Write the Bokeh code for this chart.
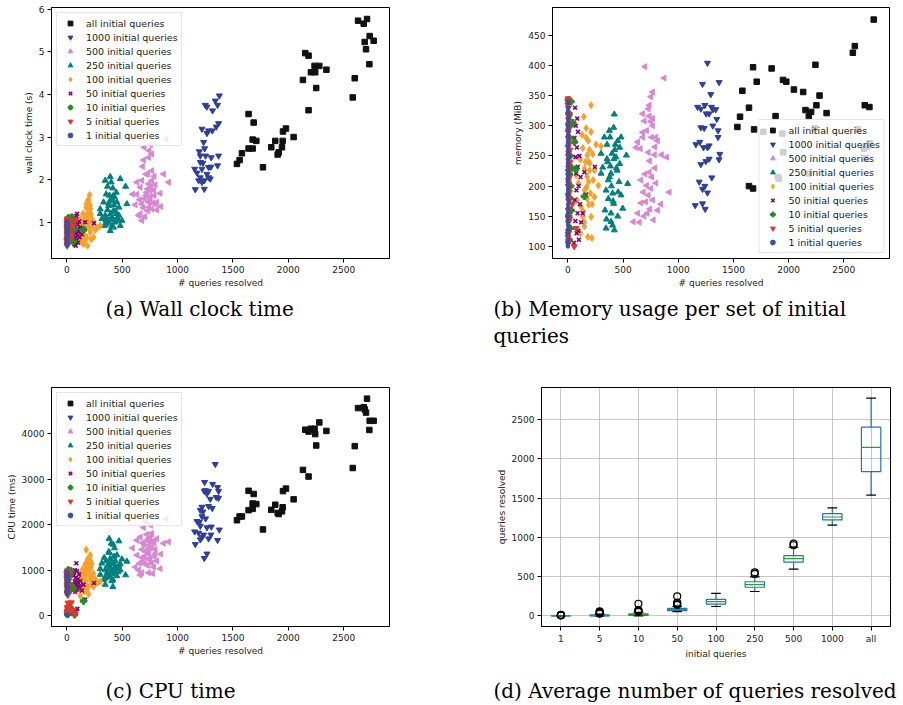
import numpy as np
from bokeh.plotting import figure
from bokeh.layouts import column, row
from bokeh.models import Range1d, FixedTicker
from bokeh.core.properties import value
from bokeh.embed import file_html
from bokeh.resources import INLINE

# ---------------- data: "all initial queries" ----------------
ALL_X = [1536,1560,1581,1641,1641,1678,1678,1687,1711,1771,1846,1882,1904,1913,1943,1949,1952,1979,2048,2132,
         2153,2183,2183,2204,2237,2243,2252,2280,2344,2582,2600,2630,2681,2690,2702,2711,2732,2735,2771]
ALL_WALL = [2.37,2.46,2.62,3.54,2.73,2.73,2.94,3.34,2.91,2.29,2.76,2.91,2.59,2.64,2.76,2.91,3.13,3.20,3.00,4.34,
            4.97,4.91,3.63,4.52,4.67,4.52,4.15,4.67,4.58,3.93,4.38,5.73,5.66,5.23,5.06,5.77,4.71,5.37,5.26]
ALL_MEM = [298,315,358,200,330,196,397,294,373,290,395,316,215,212,287,376,256,373,360,356,
           326,316,221,323,296,401,334,350,321,421,432,294,262,334,246,265,331,271,476]
ALL_CPU = [2094,2177,2177,2741,2316,2344,2462,2671,2449,1892,2323,2435,2254,2230,2289,2379,2734,2789,2553,3200,
           4083,4042,3054,4104,4104,3986,3736,4243,4056,3242,3722,4557,4577,4529,4459,4765,4077,4278,4278]

# ---------------- 1000 initial queries ----------------
Q1000_X = [1154,1160,1175,1190,1196,1205,1205,1205,1220,1220,1220,1229,1235,1241,1241,1244,1250,1253,1265,1265,
           1265,1280,1280,1280,1295,1301,1304,1313,1316,1340,1349,1361,1361,1370,1370,1377]
Q1000_WALL = [2.25,1.77,2.16,1.98,2.66,2.56,2.41,2.05,3.19,2.25,1.94,2.39,2.88,1.98,1.78,2.73,3.75,2.56,3.71,3.09,
              2.13,3.15,2.29,2.05,2.02,2.30,2.52,3.15,3.62,3.85,3.24,3.75,2.33,3.32,2.56,3.97]
Q1000_MEM = [168,269,331,207,273,328,297,236,195,171,369,264,296,200,334,162,241,320,404,264,
             189,267,245,320,352,331,214,300,327,327,311,281,292,372,244,253]
Q1000_CPU = [1844,1565,2073,1816,2050,2316,1969,1669,2177,1718,2386,2282,1774,1259,2734,2929,2750,2129,2678,1357,
             1934,2400,1690,2734,2560,1774,1950,2358,2887,3325,2600,2817,1656,2734,2581,1885]

# ---------------- 500 initial queries ----------------
Q500_X = [593,618,633,633,648,657,663,663,678,678,678,684,690,693,699,700,705,714,714,720,729,729,729,738,738,
          738,740,744,750,753,753,759,760,768,768,768,768,775,785,789,789,798,798,813,813,843,849,873,895,919]
Q500_WALL = [1.66,1.41,1.94,1.66,1.16,1.53,1.82,1.20,1.98,1.04,1.43,2.31,1.34,2.46,2.76,1.55,1.13,1.63,2.13,1.70,
             2.13,1.27,1.78,2.52,1.90,1.47,1.35,2.68,1.60,1.74,1.53,2.82,1.85,2.60,2.21,1.31,1.98,1.45,1.75,2.08,
             1.63,1.88,1.43,1.29,1.47,1.68,1.37,2.13,2.95,1.94]
Q500_MEM = [141,264,155,273,140,262,210,172,289,320,281,190,150,308,398,220,174,201,292,155,
            328,256,185,334,223,316,242,162,307,196,348,281,215,356,312,300,177,144,252,265,
            230,281,205,275,160,170,252,379,248,190]
Q500_CPU = [1482,1064,1329,1655,1000,1150,1725,890,1273,939,1450,1600,1200,1934,1551,1300,1134,2073,1400,1781,
            1447,1100,1650,1690,1238,939,1350,1550,1482,1250,1700,1983,1800,1795,1621,1150,1500,925,1064,1300,
            1600,1357,1450,1690,1200,1029,1350,1586,2121,1621]

# ---------------- 250 initial queries ----------------
Q250_X = [301,301,316,331,337,346,346,355,355,367,367,376,382,385,391,391,391,400,406,415,415,421,421,430,436,
          446,452,452,464,470,470,482,482,497,530,542,360,395,410,425,440,350,378,405,455,418]
Q250_WALL = [1.31,1.20,1.08,1.47,0.92,1.98,1.16,1.66,1.04,1.84,1.29,1.39,0.98,1.63,2.07,1.51,0.80,1.94,1.13,1.80,
             1.52,1.27,0.88,1.59,1.00,1.70,1.47,1.20,1.04,1.35,1.16,2.02,0.92,1.04,1.84,1.43,
             1.10,1.20,1.05,1.40,1.25,0.95,1.45,0.90,1.10,1.62]
Q250_MEM = [254,221,231,281,160,193,130,269,245,210,179,292,281,233,141,221,155,254,188,297,
            171,319,127,269,248,226,150,275,207,264,237,185,281,163,251,204,
            240,200,175,260,230,145,215,135,190,245]
Q250_CPU = [1029,900,1150,786,1273,682,1000,855,1200,1099,950,960,1690,1377,1064,850,1250,1586,1000,786,
            633,1134,920,1482,1203,1050,1329,869,960,1635,1100,1134,1000,1238,890,1189,
            900,1150,980,1300,1080,820,1400,760,1000,1560]

# ---------------- 100 initial queries ----------------
Q100_X = [75,84,96,114,114,120,136,136,145,151,151,151,166,166,175,175,175,181,187,187,190,196,196,205,211,
          211,217,226,241,241,256,277,301,130,160,200,220,170,185,150,230,140,210]
Q100_WALL = [0.88,1.04,0.69,0.80,0.57,1.08,0.73,0.53,1.20,0.96,0.80,0.49,1.12,0.57,1.43,1.34,1.04,0.65,1.20,0.45,
             1.52,0.88,1.52,1.64,1.31,0.77,1.20,1.08,1.00,0.65,0.82,0.88,0.92,
             0.95,0.70,1.00,0.60,0.85,1.10,0.62,0.90,1.00,1.40]
Q100_MEM = [218,177,205,122,244,166,263,149,315,229,193,133,296,280,251,216,179,116,240,207,
            169,260,226,188,334,149,114,253,182,226,269,201,266,
            285,240,238,170,198,275,140,210,158,290]
Q100_CPU = [700,647,786,600,911,438,661,850,1029,542,772,950,1134,700,890,1447,1000,560,1238,633,
            1100,995,473,1250,1329,786,1050,1134,925,633,800,716,751,
            820,540,920,680,760,1180,600,860,980,1200]

# ---------------- 50 initial queries ----------------
Q50_X = [55,60,62,65,68,70,72,75,78,80,82,85,88,90,92,95,98,100,105,110,115,120,135,150,165,245]
Q50_WALL = [0.55,0.95,0.70,1.10,0.48,0.80,1.05,0.62,0.90,0.45,0.75,1.15,0.58,0.85,1.20,0.68,0.95,0.52,0.78,1.02,
            0.65,0.88,0.72,0.85,1.00,0.98]
Q50_MEM = [106,280,177,330,142,248,300,221,193,122,264,312,155,232,290,126,200,111,250,170,
           215,140,155,223,186,232]
Q50_CPU = [120,950,620,880,40,750,1000,520,830,80,680,1150,560,700,980,150,800,600,720,900,
           640,760,550,680,355,716]

# ---------------- 10 initial queries ----------------
Q10_X = [5,8,10,12,14,15,17,18,20,22,25,28,30,35,45,60,70,150]
Q10_WALL = [0.60,0.95,0.75,1.10,0.52,0.85,0.68,1.05,0.90,0.58,0.80,1.00,0.70,0.92,1.12,0.55,0.85,0.82]
Q10_MEM = [343,150,320,220,110,280,180,300,250,130,200,340,160,230,305,273,228,183]
Q10_CPU = [950,30,800,1000,520,120,880,60,700,560,900,180,650,980,90,600,20,320]

# ---------------- 5 initial queries ----------------
Q5_X = [1,2,2,3,3,4,4,5,5,6,7,8,9,10,12,15,20,40,58,75,
        0,1,1,2,3,4,5,6,7,8,9,10,11,13,14,16,18,2,3,5]
Q5_WALL = [0.90,0.55,1.05,0.70,0.45,0.95,0.60,0.80,1.08,0.50,0.75,1.00,0.62,0.88,0.52,0.78,1.02,0.68,0.92,1.05,
           0.85,0.48,0.98,0.62,0.88,0.72,0.58,0.95,1.02,0.66,0.80,0.54,0.92,0.70,0.86,0.60,0.96,0.76,1.00,0.64]
Q5_MEM = [345,120,300,200,105,250,160,330,280,140,230,320,180,110,270,215,240,170,100,130,
          335,290,265,225,185,150,125,310,205,255,175,295,235,315,190,145,260,115,340,210]
Q5_CPU = [850,40,700,600,100,900,180,500,950,20,780,150,450,280,60,650,200,285,120,30,
          820,60,900,480,760,640,90,870,950,560,700,130,880,540,800,70,920,660,980,520]

# ---------------- 1 initial queries ----------------
Q1_X = [0,0,1,1,1,1,1,1,2,2,2,2,3,3,4,5,6,8,10,12,0,1,2,3,1,2,0,4,1,3,
        0,1,2,0,1,3,2,0,1,4,2,1,0,3,5,1,2,0,6,1]
Q1_WALL = [0.50,0.85,0.55,0.60,0.75,0.80,0.90,1.00,0.48,0.65,0.72,0.95,0.58,0.82,0.52,0.88,0.62,0.78,0.70,0.92,
           0.45,0.53,0.57,0.68,0.83,0.87,0.93,0.97,0.62,1.02,
           0.47,0.51,0.56,0.63,0.67,0.71,0.74,0.77,0.81,0.84,0.86,0.89,0.91,0.94,0.96,0.99,0.54,0.59,0.79,0.69]
Q1_MEM = [105,340,120,150,180,210,240,270,300,330,110,160,200,260,315,130,230,290,175,250,
          125,145,190,220,235,280,305,320,100,338,
          102,112,135,140,155,165,170,185,195,205,215,225,245,255,265,275,285,295,310,325]
Q1_CPU = [10,850,500,550,700,800,900,950,0,600,750,880,480,820,30,920,620,780,520,860,
          520,560,580,730,760,840,870,930,900,940,
          470,490,510,530,540,590,610,640,660,690,710,740,770,790,810,830,890,910,960,15]

# ---------------- box plot (d) ----------------
CATS = ["1", "5", "10", "50", "100", "250", "500", "1000", "all"]
BOX_Q1 = [1, 1, 8, 66, 149, 365, 684, 1223, 1837]
BOX_MED = [1, 4, 17, 83, 182, 398, 730, 1260, 2148]
BOX_Q3 = [2, 12, 25, 95, 211, 435, 767, 1302, 2405]
BOX_LO = [1, 0, 0, 54, 120, 311, 597, 1157, 1538]
BOX_HI = [3, 22, 45, 120, 286, 497, 875, 1376, 2774]
FLIER_CAT = ["1", "1", "1", "1", "5", "5", "5", "5", "10", "10", "10", "10", "10",
             "50", "50", "50", "50", "250", "250", "500", "500"]
FLIER_VAL = [5, 8, 11, 14, 28, 38, 48, 58, 52, 60, 68, 75, 155,
             140, 150, 170, 249, 535, 555, 900, 920]

CAPTION_A = ["(a) Wall clock time"]
CAPTION_B = ["(b) Memory usage per set of initial", "queries"]
CAPTION_C = ["(c) CPU time"]
CAPTION_D = ["(d) Average number of queries resolved"]

LABELS = ["all initial queries", "1000 initial queries", "500 initial queries", "250 initial queries",
          "100 initial queries", "50 initial queries", "10 initial queries", "5 initial queries",
          "1 initial queries"]
XS = [ALL_X, Q1000_X, Q500_X, Q250_X, Q100_X, Q50_X, Q10_X, Q5_X, Q1_X]
WALLS = [ALL_WALL, Q1000_WALL, Q500_WALL, Q250_WALL, Q100_WALL, Q50_WALL, Q10_WALL, Q5_WALL, Q1_WALL]
MEMS = [ALL_MEM, Q1000_MEM, Q500_MEM, Q250_MEM, Q100_MEM, Q50_MEM, Q10_MEM, Q5_MEM, Q1_MEM]
CPUS = [ALL_CPU, Q1000_CPU, Q500_CPU, Q250_CPU, Q100_CPU, Q50_CPU, Q10_CPU, Q5_CPU, Q1_CPU]

MARKERS = ["square", "inverted_triangle", "triangle", "triangle", "diamond", "x", "plus", "inverted_triangle", "circle"]
ANGLES = [0, 0, np.pi / 2, 0, 0, 0, 0, 0, 0]
COLORS = ["#111111", "#2e3f9c", "#d987d4", "#008080", "#f8a12a", "#800080", "#228b22", "#e0382b", "#3a50a8"]
SIZES = [5.5, 6, 6, 6, 7, 5.5, 6.5, 6, 3.5]

FONT = "DejaVu Sans"
SERIF = "DejaVu Serif"
TXT = "#1a1a1a"


def style(p, xlabel, ylabel):
    p.outline_line_color = "black"
    p.outline_line_width = 1
    for ax in (p.xaxis[0], p.yaxis[0]):
        ax.axis_line_color = "black"
        ax.major_tick_line_color = "black"
        ax.minor_tick_line_color = None
        ax.major_tick_in = 0
        ax.major_tick_out = 4
        ax.major_label_text_font = FONT
        ax.major_label_text_font_size = "9px"
        ax.major_label_text_color = TXT
        ax.axis_label_text_font = FONT
        ax.axis_label_text_font_size = "9px"
        ax.axis_label_text_font_style = "normal"
        ax.axis_label_text_color = TXT
        ax.major_label_standoff = 3
        ax.axis_label_standoff = 2
    p.xaxis[0].axis_label = xlabel
    p.yaxis[0].axis_label = ylabel


def caption_fig(lines, width, height, left, first_y, line_gap):
    """A bare strip below a plot that carries its serif caption (y measured downward, in px)."""
    c = figure(width=width, height=height, x_range=Range1d(0, width), y_range=Range1d(height, 0),
               min_border=0, x_axis_type=None, y_axis_type=None, output_backend="svg",
               toolbar_location=None, tools="")
    c.outline_line_color = None
    c.grid.visible = False
    ys = [first_y + i * line_gap for i in range(len(lines))]
    c.text(x=[left] * len(lines), y=ys, text=lines, text_font=value(SERIF), text_font_size=value("20px"),
           text_align="left", text_baseline="middle", text_color="black")
    return c


def scatter_panel(ys, yrange, yticks, ylabel, legend_loc, width, height, bl, br, bt, bb):
    p = figure(width=width, height=height, x_range=Range1d(-139, 2914), y_range=Range1d(*yrange),
               min_border_left=bl, min_border_right=br, min_border_top=bt, min_border_bottom=bb,
               output_backend="svg", toolbar_location=None, tools="")
    p.xgrid.visible = False
    p.ygrid.visible = False
    for lab, x, y, m, a, c, s in zip(LABELS, XS, ys, MARKERS, ANGLES, COLORS, SIZES):
        if m == "x":
            p.scatter(x, y, marker=m, size=s, line_color=c, line_width=1.6, legend_label=lab)
        else:
            p.scatter(x, y, marker=m, angle=a, size=s, fill_color=c, line_color=c, legend_label=lab)
    style(p, "# queries resolved", ylabel)
    p.xaxis[0].ticker = FixedTicker(ticks=[0, 500, 1000, 1500, 2000, 2500])
    p.yaxis[0].ticker = FixedTicker(ticks=yticks)
    leg = p.legend[0]
    leg.location = legend_loc
    leg.margin = 5
    leg.padding = 3
    leg.spacing = 0
    leg.label_height = 14
    leg.glyph_height = 12
    leg.glyph_width = 20
    leg.label_standoff = 6
    leg.label_text_font = FONT
    leg.label_text_font_size = "9.5px"
    leg.label_text_color = TXT
    leg.border_line_color = "#cccccc"
    leg.background_fill_alpha = 0.8
    return p


pa = scatter_panel(WALLS, (0.15, 6.04), [1, 2, 3, 4, 5, 6], "wall clock time (s)",
                   "top_left", 448, 294, 51, 59, 7, 36)
pb = scatter_panel(MEMS, (80, 496), [100, 150, 200, 250, 300, 350, 400, 450], "memory (MiB)",
                   "bottom_right", 447, 294, 104, 6, 6, 36)
pc = scatter_panel(CPUS, (-240, 5010), [0, 1000, 2000, 3000, 4000], "CPU time (ms)",
                   "top_left", 448, 315, 51, 59, 27, 36)

# ---------------- panel (d): box plot ----------------
pos = np.arange(1, len(CATS) + 1)
pd_ = figure(width=447, height=315, x_range=Range1d(0.5, len(CATS) + 0.5), y_range=Range1d(-135, 2910),
             min_border_left=93, min_border_right=5, min_border_top=22, min_border_bottom=49,
             output_backend="svg", toolbar_location=None, tools="")
for g in (pd_.xgrid[0], pd_.ygrid[0]):
    g.grid_line_color = "#b0b0b0"
    g.grid_line_alpha = 0.7
    g.grid_line_width = 1
pd_.vbar(x=pos, width=0.5, bottom=BOX_Q1, top=BOX_Q3, fill_color=None, line_color="#1f77b4", line_width=1.2)
pd_.segment(pos, BOX_Q3, pos, BOX_HI, line_color="#1f77b4", line_width=1.2)
pd_.segment(pos, BOX_Q1, pos, BOX_LO, line_color="#1f77b4", line_width=1.2)
pd_.segment(pos - 0.125, BOX_HI, pos + 0.125, BOX_HI, line_color="black", line_width=1.2)
pd_.segment(pos - 0.125, BOX_LO, pos + 0.125, BOX_LO, line_color="black", line_width=1.2)
pd_.segment(pos - 0.25, BOX_MED, pos + 0.25, BOX_MED, line_color="#2ca02c", line_width=1.2)
flier_x = [CATS.index(c) + 1 for c in FLIER_CAT]
pd_.scatter(flier_x, FLIER_VAL, marker="circle", size=7, fill_color=None, line_color="black", line_width=1.2)
style(pd_, "initial queries", "queries resolved")
pd_.xaxis[0].ticker = FixedTicker(ticks=pos.tolist())
pd_.xaxis[0].major_label_overrides = {int(i): c for i, c in zip(pos, CATS)}
pd_.yaxis[0].ticker = FixedTicker(ticks=[0, 500, 1000, 1500, 2000, 2500])

ca = caption_fig(CAPTION_A, 448, 66, 105, 14, 27)
cb = caption_fig(CAPTION_B, 453, 66, 45, 14, 27)
cc = caption_fig(CAPTION_C, 448, 30, 105, 15, 27)
cd = caption_fig(CAPTION_D, 453, 30, 45, 15, 27)

layout = column(row(pa, pb), row(ca, cb), row(pc, pd_), row(cc, cd))
open("out.html", "w").write(file_html(layout, INLINE))
